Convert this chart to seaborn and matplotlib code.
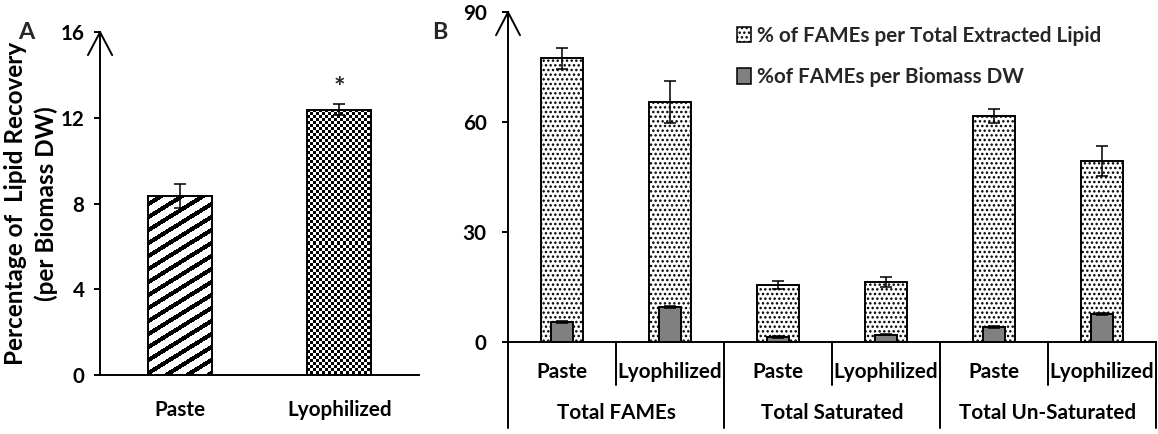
import numpy as np
import matplotlib.pyplot as plt
import seaborn as sns
from matplotlib.patches import Patch

sns.set_theme(style='white')
plt.rcParams['font.family'] = ['Lato', 'DejaVu Sans']
plt.rcParams['font.weight'] = 'bold'
plt.rcParams['hatch.linewidth'] = 0.8

# Panel A: lipid recovery per biomass DW
methods = ['Paste', 'Lyophilized']
lipid_recovery = [8.35, 12.38]
lipid_recovery_err = [0.55, 0.25]

# Panel B: FAMEs
groups = ['Total FAMEs', 'Total Saturated', 'Total Un-Saturated']
sub_labels = ['Paste', 'Lyophilized'] * 3
bar_keys = [f'{g} {s}' for g in groups for s in ['Paste', 'Lyophilized']]
fames_lipid = [77.4, 65.5, 15.5, 16.3, 61.7, 49.4]
fames_lipid_err = [2.9, 5.8, 1.1, 1.4, 2.0, 4.1]
fames_dw = [5.45, 9.45, 1.36, 2.0, 4.1, 7.6]
fames_dw_err = [0.4, 0.3, 0.15, 0.2, 0.3, 0.3]

DPI = 140
fig = plt.figure(figsize=(1158 / DPI, 434 / DPI), dpi=DPI)
ax_a = fig.add_axes([0.0864, 0.1359, 0.2755, 0.790])
ax_b = fig.add_axes([0.4387, 0.212, 0.5596, 0.760])

FS = 10.6
err_kw = dict(fmt='none', ecolor='black', elinewidth=0.8, capsize=3, capthick=0.8, zorder=5)


def texture_fill(ax, bar, kind):
    """Fill a bar with a pixel texture (stripes / checkerboard), clipped to the bar."""
    x0, w, h = bar.get_x(), bar.get_width(), bar.get_height()
    p0 = ax.transData.transform((x0, 0))
    p1 = ax.transData.transform((x0 + w, h))
    nx = max(int(round(abs(p1[0] - p0[0]))), 2)
    ny = max(int(round(abs(p1[1] - p0[1]))), 2)
    rows, cols = np.indices((ny, nx))
    if kind == 'checker':
        tex = ((rows // 3 + cols // 3) % 2).astype(float)
    else:
        u = (ny - rows) - 0.62 * cols
        tex = (np.mod(u, 13.0) >= 5.0).astype(float)
    img = ax.imshow(tex, cmap='gray', vmin=0, vmax=1, extent=(x0, x0 + w, 0, h),
                    aspect='auto', interpolation='nearest', zorder=0.9)
    img.set_clip_path(bar)
    bar.set_facecolor('none')


# ---------------- Panel A ----------------
sns.barplot(x=methods, y=lipid_recovery, ax=ax_a, width=0.4, color='white',
            edgecolor='black', linewidth=1.0, saturation=1)
ax_a.set_xlim(-0.5, 1.5)
ax_a.set_ylim(0, 16)
fig.canvas.draw()
texture_fill(ax_a, ax_a.patches[0], 'stripes')
texture_fill(ax_a, ax_a.patches[1], 'checker')
ax_a.set_xlim(-0.5, 1.5)
ax_a.set_ylim(0, 16)

ax_a.errorbar([0, 1], lipid_recovery, yerr=lipid_recovery_err, **err_kw)
ax_a.text(1, 13.0, '*', ha='center', va='baseline', fontsize=14, fontweight='bold')

ax_a.set_yticks([0, 4, 8, 12, 16])
ax_a.tick_params(axis='y', left=True, direction='out', length=3, width=1,
                 pad=5, labelsize=FS, colors='black')
ax_a.tick_params(axis='x', bottom=False, pad=7, labelsize=FS, colors='black')
for lab in ax_a.get_xticklabels() + ax_a.get_yticklabels():
    lab.set_fontweight('bold')
ax_a.set_ylabel('Percentage of  Lipid Recovery\n(per Biomass DW)', fontsize=12.5,
                fontweight='bold', color='black', labelpad=1.5, linespacing=1.35)
for side in ['top', 'right']:
    ax_a.spines[side].set_visible(False)
for side in ['left', 'bottom']:
    ax_a.spines[side].set_color('black')
    ax_a.spines[side].set_linewidth(1.0)
ax_a.plot([-0.038, 0, 0.038], [1 - 0.067, 1, 1 - 0.067],
          transform=ax_a.transAxes, color='black', lw=1.0, clip_on=False)

# ---------------- Panel B ----------------
sns.barplot(x=bar_keys, y=fames_lipid, ax=ax_b, width=0.39, color='white',
            edgecolor='black', linewidth=1.0, saturation=1, order=bar_keys)
for p in ax_b.patches:
    p.set_hatch('.....')
n_lipid = len(ax_b.patches)
sns.barplot(x=bar_keys, y=fames_dw, ax=ax_b, width=0.21, color='#808080',
            edgecolor='black', linewidth=1.0, saturation=1, order=bar_keys)
for p in ax_b.patches[n_lipid:]:
    p.set_zorder(3)

xs = np.arange(len(bar_keys))
ax_b.errorbar(xs, fames_lipid, yerr=fames_lipid_err, **err_kw)
ax_b.errorbar(xs, fames_dw, yerr=fames_dw_err, **err_kw)

ax_b.set_xlim(-0.5, 5.5)
ax_b.set_ylim(0, 90)
ax_b.set_yticks([0, 30, 60, 90])
ax_b.set_xticks([])
ax_b.tick_params(axis='y', left=True, direction='out', length=3, width=1,
                 pad=8, labelsize=FS, colors='black')
for lab in ax_b.get_yticklabels():
    lab.set_fontweight('bold')
for side in ['top', 'right']:
    ax_b.spines[side].set_visible(False)
for side in ['left', 'bottom']:
    ax_b.spines[side].set_color('black')
    ax_b.spines[side].set_linewidth(1.0)
ax_b.plot([-0.0185, 0, 0.0185], [1 - 0.07, 1, 1 - 0.07],
          transform=ax_b.transAxes, color='black', lw=1.0, clip_on=False)

# two-level category axis
trans = ax_b.get_xaxis_transform()
for i, lab in enumerate(sub_labels):
    ax_b.text(i, -0.091, lab, transform=trans, ha='center', va='center',
              fontsize=FS, fontweight='bold', color='black')
for g, name in enumerate(groups):
    ax_b.text(2 * g + 0.5, -0.215, name, transform=trans, ha='center', va='center',
              fontsize=FS, fontweight='bold', color='black')
for xb in [0.5, 2.5, 4.5]:
    ax_b.plot([xb, xb], [0, -0.13], transform=trans, color='black', lw=1.0, clip_on=False)
for xb in [-0.5, 1.5, 3.5, 5.5]:
    ax_b.plot([xb, xb], [0, -0.261], transform=trans, color='black', lw=1.0, clip_on=False)

handles = [Patch(facecolor='white', edgecolor='black', hatch='.....', linewidth=0.8),
           Patch(facecolor='#808080', edgecolor='black', linewidth=0.8)]
ax_b.legend(handles, ['% of FAMEs per Total Extracted Lipid', '%of FAMEs per Biomass DW'],
            loc='upper left', bbox_to_anchor=(0.325, 1.015), frameon=False,
            handlelength=0.65, handleheight=0.8, handletextpad=0.3, labelspacing=1.05,
            prop={'size': FS, 'weight': 'bold'})

fig.text(0.0155, 0.924, 'A', fontsize=12, fontweight='bold', va='center')
fig.text(0.373, 0.924, 'B', fontsize=12, fontweight='bold', va='center')

fig.savefig('out.png', dpi=DPI, facecolor='white')
